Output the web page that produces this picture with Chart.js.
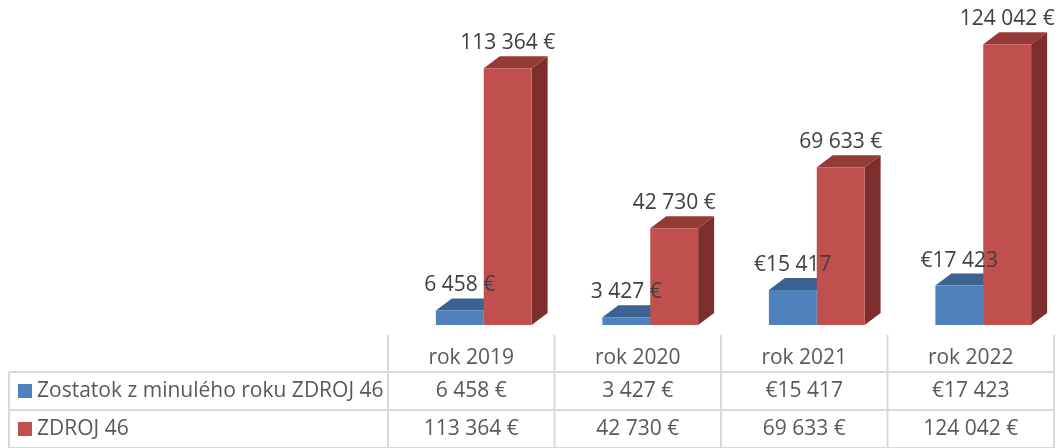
<!DOCTYPE html>
<html lang="sk">
<head>
  <meta charset="UTF-8" />
  <title>ZDROJ 46</title>
  <script src="https://cdn.jsdelivr.net/npm/chart.js"></script>
  <style>
    body { margin: 0; background: #fff; }
    .wrap { width: 1059px; height: 448px; position: relative; }
  </style>
</head>
<body>
  <div class="wrap"><canvas id="chart"></canvas></div>
  <script>
const years = ['rok 2019', 'rok 2020', 'rok 2021', 'rok 2022'];
const seriesNames = ['Zostatok z minulého roku ZDROJ 46', 'ZDROJ 46'];
const zostatok = [6458, 3427, 15417, 17423];
const zdroj = [113364, 42730, 69633, 124042];
// euro sign in front (as in the source) or after the number
const zostatokEuroFirst = [false, false, true, true];
const zdrojEuroFirst = [false, false, false, false];

const FONT = '21px "Open Sans", sans-serif';
const SHIFT = 12.5;          // front faces sit a bit right of the column centre
const DX = 16, DY = 12;      // 3d depth
const faces = [
  { front: '#4F81BD', top: '#3C6291', side: '#385D8A' },
  { front: '#C0504D', top: '#963A38', side: '#7E2F2D' }
];

function fmt(v, euroFirst) {
  const s = String(v).replace(/\B(?=(\d{3})+(?!\d))/g, ' ');
  return euroFirst ? '€' + s : s + ' €';
}

// top and side faces go first, the front faces drawn by Chart.js cover them
const bars3d = {
  id: 'bars3d',
  beforeDatasetsDraw(chart) {
    const ctx = chart.ctx;
    ctx.save();
    ctx.translate(SHIFT, 0);
    chart.data.datasets.forEach((ds, di) => {
      const c = faces[di];
      chart.getDatasetMeta(di).data.forEach(bar => {
        const l = bar.x - bar.width / 2, r = bar.x + bar.width / 2;
        const t = bar.y, b = bar.base;
        ctx.fillStyle = c.top;
        ctx.beginPath();
        ctx.moveTo(l, t); ctx.lineTo(l + DX, t - DY);
        ctx.lineTo(r + DX, t - DY); ctx.lineTo(r, t);
        ctx.closePath(); ctx.fill();
        ctx.fillStyle = c.side;
        ctx.beginPath();
        ctx.moveTo(r, t); ctx.lineTo(r + DX, t - DY);
        ctx.lineTo(r + DX, b - DY); ctx.lineTo(r, b);
        ctx.closePath(); ctx.fill();
      });
    });
  },
  afterDatasetsDraw(chart) {
    const ctx = chart.ctx;
    ctx.restore();
    ctx.save();
    ctx.font = FONT;
    ctx.fillStyle = '#404040';
    ctx.textAlign = 'center';
    ctx.textBaseline = 'middle';
    const flags = [zostatokEuroFirst, zdrojEuroFirst];
    chart.data.datasets.forEach((ds, di) => {
      chart.getDatasetMeta(di).data.forEach((bar, i) => {
        ctx.fillText(fmt(ds.data[i], flags[di][i]), bar.x + SHIFT, bar.y - 25);
      });
    });
    ctx.restore();
  }
};

const dataTable = {
  id: 'dataTable',
  afterDraw(chart) {
    const ctx = chart.ctx;
    const xs = chart.scales.x;
    const w = (chart.chartArea.right - chart.chartArea.left) / years.length;
    const left = chart.chartArea.left;
    const rowLines = [372, 410, 448];
    const rowMid = [358, 391, 429];
    ctx.save();
    ctx.strokeStyle = '#D9D9D9';
    ctx.lineWidth = 2;
    ctx.beginPath();
    for (let i = 0; i <= years.length; i++) {
      const x = left + i * w;
      ctx.moveTo(x, 335); ctx.lineTo(x, 448);
    }
    ctx.moveTo(9, 372); ctx.lineTo(9, 448);
    rowLines.forEach(y => { ctx.moveTo(9, y); ctx.lineTo(left + years.length * w, y); });
    ctx.stroke();

    ctx.font = FONT;
    ctx.fillStyle = '#595959';
    ctx.textBaseline = 'middle';
    ctx.textAlign = 'center';
    years.forEach((y, i) => ctx.fillText(y, xs.getPixelForValue(i), rowMid[0]));
    const flags = [zostatokEuroFirst, zdrojEuroFirst];
    chart.data.datasets.forEach((ds, di) => {
      ds.data.forEach((v, i) => ctx.fillText(fmt(v, flags[di][i]), xs.getPixelForValue(i), rowMid[di + 1]));
    });
    ctx.textAlign = 'left';
    chart.data.datasets.forEach((ds, di) => {
      ctx.fillStyle = faces[di].front;
      ctx.fillRect(18, rowMid[di + 1] - 7, 14, 14);
      ctx.fillStyle = '#595959';
      ctx.fillText(ds.label, 37, rowMid[di + 1]);
    });
    ctx.restore();
  }
};

new Chart(document.getElementById('chart'), {
  type: 'bar',
  data: {
    labels: years,
    datasets: [
      { label: seriesNames[0], data: zostatok, backgroundColor: faces[0].front, clip: false },
      { label: seriesNames[1], data: zdroj, backgroundColor: faces[1].front, clip: false }
    ]
  },
  options: {
    responsive: true,
    maintainAspectRatio: false,
    animation: false,
    layout: { padding: { left: 388, right: 5, top: 8, bottom: 123 } },
    datasets: { bar: { categoryPercentage: 0.575, barPercentage: 1 } },
    scales: {
      x: { display: false },
      y: { display: false, min: 0, max: 140000 }
    },
    plugins: {
      legend: { display: false },
      tooltip: { enabled: false }
    }
  },
  plugins: [bars3d, dataTable]
});
  </script>
</body>
</html>
